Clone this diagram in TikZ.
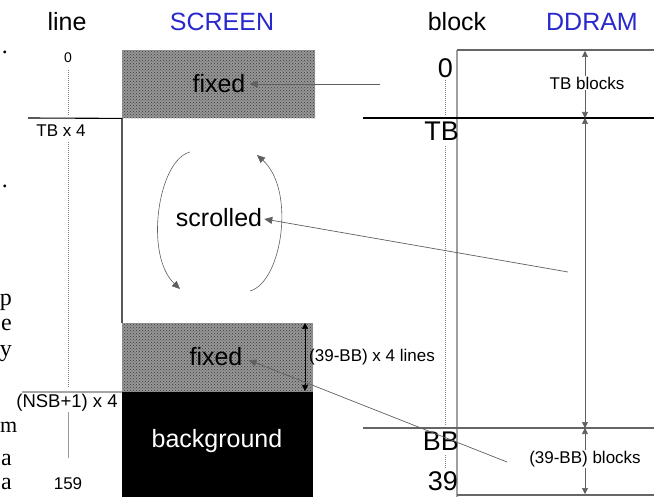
\documentclass[tikz,border=0pt]{standalone}
\usepackage{fontspec}
\setmainfont{Liberation Sans}
\newfontfamily\serifpart{Liberation Serif}
\usetikzlibrary{arrows.meta,patterns}
\definecolor{titleblue}{RGB}{40,40,205}
\definecolor{boxgray}{RGB}{150,150,150}
\definecolor{linegray}{RGB}{95,95,95}
\begin{document}
\begin{tikzpicture}[x=1pt,y=-1pt,
  title/.style={inner sep=0pt, font=\fontsize{25}{25}\selectfont},
  lbl/.style={inner sep=0pt, font=\fontsize{17}{17}\selectfont},
  big/.style={inner sep=0pt, font=\fontsize{25}{25}\selectfont},
  ddlbl/.style={inner sep=0pt, anchor=east, font=\fontsize{27}{27}\selectfont},
  struct/.style={line width=1.1pt},
  conn/.style={draw=linegray, line width=0.7pt, -{Triangle[length=8pt,width=7pt]}},
  dimln/.style={draw=linegray, line width=0.6pt, {Triangle[length=6pt,width=6pt]}-{Triangle[length=6pt,width=6pt]}},
  dotv/.style={draw=gray, line width=1pt, dash pattern=on 1pt off 1pt},
  fixbox/.style={fill=boxgray, draw=none, inner sep=0pt, anchor=north west,
    postaction={pattern=crosshatch dots, pattern color=gray!45!black}},
  frag/.style={inner sep=0pt, anchor=base east, font=\serifpart\fontsize{24}{24}\selectfont}
]
\useasboundingbox (0,0) rectangle (654,497);
\clip (0,0) rectangle (654,497);

% left margin fragments
\node[frag] (f1) at (8,54) {.};
\node[frag] (f2) at (8,188) {.};
\node[frag] (f3) at (12,306) {p};
\node[frag] (f4) at (12,331) {e};
\node[frag] (f5) at (12,356) {y};
\node[frag, anchor=base west, font=\serifpart\fontsize{22}{22}\selectfont] (f6) at (0,432) {m};
\node[frag] (f7) at (12,465) {a};
\node[frag] (f8) at (12,489) {a};

% titles
\node[title] (tline) at (67,22) {line};
\node[title, text=titleblue] (tscreen) at (222,22) {SCREEN};
\node[title] (tblock) at (457,22) {block};
\node[title, text=titleblue] (tddram) at (592,22) {DDRAM};

% screen boxes
\node[fixbox, minimum width=193pt, minimum height=68pt] (topfix) at (122,50) {};
\node[fixbox, minimum width=191pt, minimum height=69pt] (botfix) at (122,323) {};
\node[inner sep=0pt, anchor=north west, fill=black, minimum width=191pt, minimum height=110pt] (bgbox) at (122,392) {};
\node[big] (fixedA) at (219,84) {fixed};
\node[big] (scrolled) at (219,218) {scrolled};
\node[big] (fixedB) at (216,357) {fixed};
\node[big, text=white] (bgtext) at (217,441) {background};

% line column
\node[inner sep=0pt, font=\fontsize{14}{14}\selectfont] (l0) at (68,58) {0};
\node[lbl] (ltb) at (61,131) {TB x 4};
\node[lbl, font=\fontsize{18.5}{18.5}\selectfont] (lnsb) at (67,403) {(NSB+1) x 4};
\node[lbl] (l159) at (68,484) {159};
\coordinate (lA) at (68,70);
\coordinate (lB) at (68,116);
\coordinate (lC) at (68,142);
\coordinate (lD) at (68,388);
\coordinate (lE) at (68,412);
\coordinate (lF) at (68,458);
\draw[dotv] (lA) -- (lB);
\draw[dotv] (lC) -- (lD);
\draw[draw=gray!80, line width=0.8pt] (lE) -- (lF);

% structural lines on the screen side
\coordinate (tbL) at (28,118);
\coordinate (nsbL) at (22,392);
\draw[struct] (tbL) -- (topfix.south west) -- (botfix.north west);
\draw[struct, draw=gray!70] (nsbL) -- (bgbox.north west);

% screen dimension
\coordinate (sdA) at (305,323);
\coordinate (sdB) at (305,391);
\draw[dimln, draw=black] (sdA) -- (sdB);
\node[lbl, anchor=west] (lines) at (309,357) {(39-BB) x 4 lines};

% scroll arcs
\coordinate (arcLs) at (190,152);
\coordinate (arcLe) at (180,289);
\coordinate (arcRs) at (250,291);
\coordinate (arcRe) at (257,155);
\draw[conn, line width=0.6pt] (arcLs) .. controls (158,160) and (144,255) .. (arcLe);
\draw[conn, line width=0.6pt] (arcRs) .. controls (282,282) and (296,190) .. (arcRe);

% DDRAM side
\coordinate (ddTop) at (457,50);
\coordinate (ddBot) at (457,497);
\draw[line width=2pt, draw=gray!75] (ddTop) -- (ddBot);
\coordinate (topR) at (654,50);
\coordinate (tbLs) at (363,118);
\coordinate (tbR) at (654,118);
\coordinate (bbLs) at (363,428);
\coordinate (bbR) at (654,428);
\coordinate (botL) at (457,495);
\coordinate (botR) at (654,495);
\draw[struct, draw=gray!80!black] (ddTop) -- (topR);
\draw[struct] (tbLs) -- (tbR);
\draw[struct, draw=gray!80!black] (bbLs) -- (bbR);
\draw[struct, draw=gray!80!black] (botL) -- (botR);

\node[ddlbl] (b0) at (453,68) {0};
\node[ddlbl] (bTB) at (459,131) {TB};
\node[ddlbl] (bBB) at (459,441) {BB};
\node[ddlbl] (b39) at (458,481) {39};
\coordinate (bA) at (445,80);
\coordinate (bB) at (445,116);
\coordinate (bC) at (445,146);
\coordinate (bD) at (445,426);
\coordinate (bE) at (445,455);
\coordinate (bF) at (445,468);
\draw[dotv] (bA) -- (bB);
\draw[dotv] (bC) -- (bD);
\draw[dotv] (bE) -- (bF);

% DDRAM dimensions
\coordinate (dA) at (585,51);
\coordinate (dB) at (585,118);
\coordinate (dC) at (585,428);
\coordinate (dD) at (585,494);
\draw[dimln] (dA) -- (dB);
\draw[dimln] (dB) -- (dC);
\draw[dimln] (dC) -- (dD);
\node[lbl, fill=white, inner sep=1pt] (tbblocks) at (587,83) {TB blocks};
\node[lbl, fill=white, inner sep=1pt] (bbblocks) at (585,459) {(39-BB) blocks};

% connectors from DDRAM to screen
\coordinate (cTop) at (380,84);
\coordinate (cScr) at (568,272);
\coordinate (cBot) at (507,462);
\draw[conn] (cTop) -- ([xshift=4pt]fixedA.east);
\draw[conn] (cScr) -- ([xshift=2pt,yshift=-1pt]scrolled.east);
\draw[conn] (cBot) -- ([xshift=6pt,yshift=-3pt]fixedB.east);
\end{tikzpicture}
\end{document}
